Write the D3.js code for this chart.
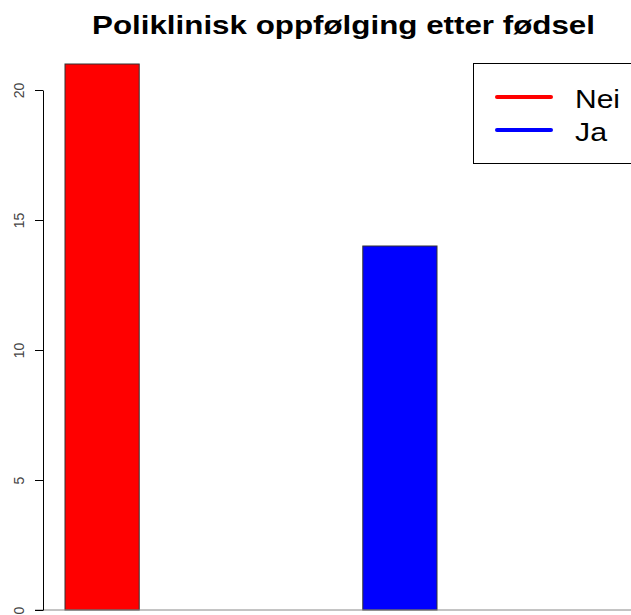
<!DOCTYPE html>
<html><head><meta charset="utf-8">
<script src="https://cdn.jsdelivr.net/npm/d3@7"></script>
<style>body{margin:0;background:#fff}svg{display:block}</style>
</head><body>
<svg id="c" width="631" height="615"></svg>
<script>
const categories = ["Nei", "Ja"];
const values = [21, 14];
const colors = ["#ff0000", "#0000ff"];
const yTicks = [0, 5, 10, 15, 20];
const title = "Poliklinisk oppfølging etter fødsel";

const svg = d3.select("#c");
const y = d3.scaleLinear().domain([0, 20]).range([610, 90]);
const x = d3.scaleBand().domain(categories).range([65, 437]).paddingInner(223 / 297).paddingOuter(0);
const font = "Liberation Sans, Arial, sans-serif";

svg.append("text").attr("x", 92).attr("y", 34)
  .attr("font-family", font).attr("font-weight", "bold")
  .attr("font-size", 25).attr("textLength", 503).attr("lengthAdjust", "spacingAndGlyphs").text(title);

svg.selectAll("rect.bar").data(values).enter().append("rect")
  .attr("x", (d, i) => x(categories[i])).attr("width", x.bandwidth())
  .attr("y", d => y(d)).attr("height", d => y(0) - y(d))
  .attr("fill", (d, i) => colors[i]).attr("stroke", "#333").attr("stroke-width", 1);

svg.append("line").attr("x1", 35).attr("x2", 631).attr("y1", y(0)).attr("y2", y(0))
  .attr("stroke", "#888").attr("stroke-width", 1);

const ax = svg.append("g").attr("transform", "translate(43,0)")
  .call(d3.axisLeft(y).tickValues(yTicks).tickSize(8).tickSizeOuter(0).tickFormat(d3.format("d")));
ax.select(".domain").attr("stroke", "#000");
ax.selectAll(".tick line").attr("stroke", "#000");
ax.selectAll(".tick text").each(function(){
  d3.select(this).attr("x", null).attr("y", null).attr("dy", "0.35em")
    .attr("font-family", font).attr("font-size", 14).attr("fill", "#444")
    .attr("transform", "translate(-24,0) rotate(-90)").attr("text-anchor", "middle");
});

const lg = svg.append("g");
lg.append("rect").attr("x", 473.5).attr("y", 63.5).attr("width", 170).attr("height", 100)
  .attr("fill", "#fff").attr("stroke", "#000").attr("stroke-width", 1);
const legendWidths = [45, 32];
categories.forEach((c, i) => {
  const yy = 97 + i * 33;
  lg.append("line").attr("x1", 497).attr("x2", 551).attr("y1", yy).attr("y2", yy)
    .attr("stroke", colors[i]).attr("stroke-width", 4).attr("stroke-linecap", "round");
  lg.append("text").attr("x", 575).attr("y", yy + 11).attr("font-family", font)
    .attr("font-size", 25).attr("textLength", legendWidths[i]).attr("lengthAdjust", "spacingAndGlyphs").text(c);
});
</script>
</body></html>
